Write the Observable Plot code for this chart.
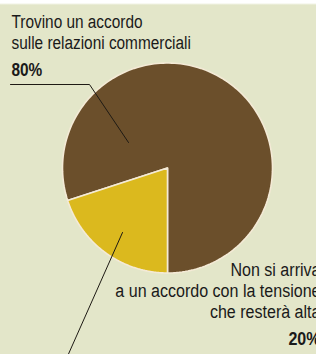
<!DOCTYPE html>
<html>
<head>
<meta charset="utf-8">
<script src="https://cdn.jsdelivr.net/npm/d3@7"></script>
<script src="https://cdn.jsdelivr.net/npm/@observablehq/plot@0.6"></script>
<style>
  html, body { margin: 0; padding: 0; }
  body {
    width: 316px; height: 354px; overflow: hidden;
    background: linear-gradient(#ffffff 0px, #ffffff 3px, #e3e6c9 5px, #e3e6c9 100%);
  }
  #chart svg { display: block; overflow: hidden; }
</style>
</head>
<body>
<div id="chart"></div>
<script>
// ---- data ----
const categories = ["Trovino un accordo sulle relazioni commerciali", "Non si arriva a un accordo con la tensione che resterà alta"];
const values = [80, 20];
const colors = ["#6b4f2b", "#dbb91e"];
const labelLines = [
  ["Trovino un accordo", "sulle relazioni commerciali"],
  ["Non si arriva", "a un accordo con la tensione", "che resterà alta"]
];
const percentLabels = ["80%", "20%"];

// ---- layout ----
const W = 316, H = 354;
const cx = 167, cy = 167.5, R = 105;
const startDeg = 252;
const fs = 19;
const font = '"Liberation Sans", Arial, sans-serif';
const squeeze = [0.81, 0.845]; // condensed look, left / right block

const pie = d3.pie().sort(null).value(d => d.value)
  .startAngle(startDeg * Math.PI / 180)
  .endAngle(startDeg * Math.PI / 180 + 2 * Math.PI);
const arcs = pie(categories.map((c, i) => ({cat: c, value: values[i]})));

const slicePts = [];
for (const a of arcs) {
  slicePts.push({cat: a.data.cat, x: cx, y: cy});
  const n = 180;
  for (let k = 0; k <= n; k++) {
    const t = a.startAngle + (a.endAngle - a.startAngle) * k / n;
    slicePts.push({cat: a.data.cat, x: cx + R * Math.sin(t), y: cy - R * Math.cos(t)});
  }
}

// leader lines (annotation layout)
const leaders = [
  {id: 0, x: 10, y: 84}, {id: 0, x: 89, y: 84}, {id: 0, x: 128, y: 142},
  {id: 1, x: 122, y: 232}, {id: 1, x: 66, y: 358}
];

// text rows: baseline positions
const rows = [];
const leftBase = [27, 48.5];
labelLines[0].forEach((t, i) => rows.push({t, side: 0, x: 11, y: leftBase[i], anchor: "start", w: "normal"}));
rows.push({t: percentLabels[0], side: 0, x: 11, y: 75, anchor: "start", w: "bold"});
const rightBase = [275, 296, 317];
labelLines[1].forEach((t, i) => rows.push({t, side: 1, x: 320, y: rightBase[i], anchor: "end", w: "normal"}));
rows.push({t: percentLabels[1], side: 1, x: 320, y: 344, anchor: "end", w: "bold"});

const textMark = (anchor, weight) => Plot.text(rows.filter(r => r.anchor === anchor && r.w === weight), {
  x: "x", y: d => d.y - 0.32 * fs, text: "t", textAnchor: anchor,
  fontSize: fs, fontWeight: weight, fill: "#1a1a1a"
});

const chart = Plot.plot({
  width: W, height: H, margin: 0,
  x: {domain: [0, W], range: [0, W], axis: null},
  y: {domain: [0, H], range: [0, H], axis: null},
  color: {domain: categories, range: colors},
  style: {background: "transparent", fontFamily: font, overflow: "hidden"},
  marks: [
    Plot.line(slicePts, {x: "x", y: "y", z: "cat", fill: "cat", stroke: "#f4ead6", strokeWidth: 1.6, curve: "linear-closed"}),
    Plot.line(leaders, {x: "x", y: "y", z: "id", stroke: "#1e1a14", strokeWidth: 1}),
    textMark("start", "normal"), textMark("start", "bold"),
    textMark("end", "normal"), textMark("end", "bold")
  ]
});

// condense the text horizontally around its anchor point
const sideOf = new Map(rows.map(r => [r.t, r.side]));
chart.querySelectorAll("text").forEach(el => {
  const s = sideOf.get(el.textContent);
  if (s === undefined) return;
  const x = +(el.getAttribute("x") || 0);
  const tr = el.getAttribute("transform") || "";
  el.setAttribute("transform", `${tr} translate(${x},0) scale(${squeeze[s]},1) translate(${-x},0)`);
});
document.getElementById("chart").appendChild(chart);
</script>
</body>
</html>
